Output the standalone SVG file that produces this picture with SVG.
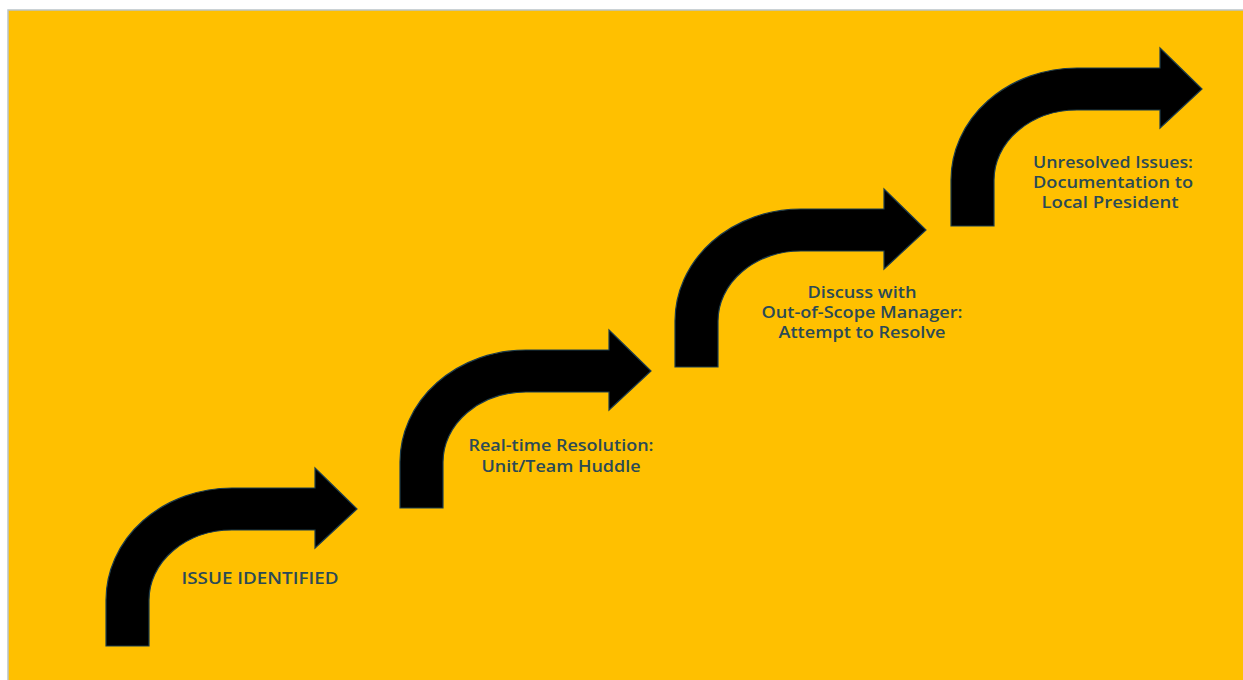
<svg xmlns="http://www.w3.org/2000/svg" xmlns:xlink="http://www.w3.org/1999/xlink" width="1243" height="680" viewBox="0 0 1243 680">
  <style>
    .bg { fill: #FFC000; stroke: #b9c3c9; stroke-width: 1.5; }
    .arrow { fill: #000000; stroke: #1d3c4c; stroke-width: 1.2; stroke-linejoin: miter; }
    .lbl { font-family: "Open Sans", "Noto Sans", "DejaVu Sans", sans-serif; font-size: 16px; font-weight: 600; fill: #2b4a56; text-anchor: middle; }
  </style>
  <defs>
    <path id="bent" d="M0,0 L0,-46 A126,112 0 0 1 126,-158 L209,-158 L209,-178 L251,-137 L209,-98 L209,-116 L126,-116 A83,70 0 0 0 43,-46 L43,0 Z"/>
  </defs>
  <rect x="0" y="0" width="1243" height="680" fill="#ffffff"/>
  <rect class="bg" x="8" y="10" width="1245" height="680"/>
  <g id="connectors"></g>
  <g id="step1">
    <use xlink:href="#bent" href="#bent" class="arrow" transform="translate(106,646)"/>
    <text class="lbl" x="260" y="584" textLength="157" lengthAdjust="spacingAndGlyphs">ISSUE IDENTIFIED</text>
  </g>
  <g id="step2">
    <use xlink:href="#bent" href="#bent" class="arrow" transform="translate(400,508)"/>
    <text class="lbl" x="561" y="451" textLength="185" lengthAdjust="spacingAndGlyphs">Real-time Resolution:</text>
    <text class="lbl" x="561" y="472" textLength="159" lengthAdjust="spacingAndGlyphs">Unit/Team Huddle</text>
  </g>
  <g id="step3">
    <use xlink:href="#bent" href="#bent" class="arrow" transform="translate(675,367)"/>
    <text class="lbl" x="862" y="298" textLength="109" lengthAdjust="spacingAndGlyphs">Discuss with</text>
    <text class="lbl" x="862" y="318" textLength="201" lengthAdjust="spacingAndGlyphs">Out-of-Scope Manager:</text>
    <text class="lbl" x="862" y="338" textLength="167" lengthAdjust="spacingAndGlyphs">Attempt to Resolve</text>
  </g>
  <g id="step4">
    <use xlink:href="#bent" href="#bent" class="arrow" transform="translate(951,226)"/>
    <text class="lbl" x="1113" y="168" textLength="160" lengthAdjust="spacingAndGlyphs">Unresolved Issues:</text>
    <text class="lbl" x="1113" y="188" textLength="160" lengthAdjust="spacingAndGlyphs">Documentation to</text>
    <text class="lbl" x="1110" y="208" textLength="137" lengthAdjust="spacingAndGlyphs">Local President</text>
  </g>
</svg>
